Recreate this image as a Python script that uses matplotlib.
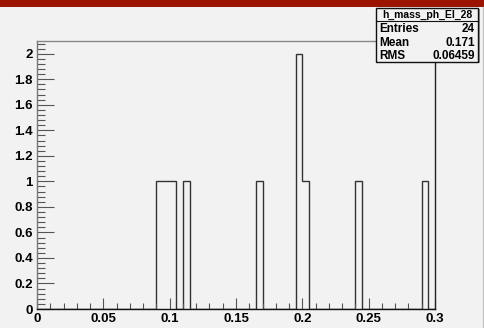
import numpy as np
import matplotlib
matplotlib.use("Agg")
import matplotlib.pyplot as plt
from matplotlib.patches import Rectangle
from matplotlib.lines import Line2D
from matplotlib.ticker import MultipleLocator, FormatStrFormatter

plt.rcParams['font.family'] = ['Liberation Sans', 'DejaVu Sans']

# histogram definition: 60 bins over [0, 0.3]
n_bins = 60
x_min, x_max = 0.0, 0.3

# filled bins (lower edge) and their contents
bin_low = [0.090, 0.095, 0.100, 0.110, 0.165, 0.195, 0.200, 0.240, 0.290]
bin_count = [1, 1, 1, 1, 1, 2, 1, 1, 1]

hist_name = "h_mass_ph_El_28"
stat_labels = ["Entries", "Mean", "RMS"]
stat_values = ["24", "0.171", "0.06459"]

edges = np.linspace(x_min, x_max, n_bins + 1)
counts = np.zeros(n_bins)
for lo, c in zip(bin_low, bin_count):
    counts[int(round((lo - x_min) / (x_max - x_min) * n_bins))] = c

bg = "#f2f2f2"
W, H = 484, 328
fig = plt.figure(figsize=(W / 100, H / 100), dpi=100, facecolor=bg)

# red header band and canvas border on the right
fig.patches.append(Rectangle((0, 1 - 7 / H), 1, 7 / H, transform=fig.transFigure,
                             facecolor="#9b1400", edgecolor="none"))
fig.lines.append(Line2D([1 - 1.5 / W] * 2, [0, 1 - 7 / H], transform=fig.transFigure,
                        color="#c4c4c4", lw=1.0))

ax = fig.add_axes([37 / W, (H - 309) / H, (435 - 37) / W, (309 - 41) / H])
ax.set_facecolor(bg)
ax.stairs(counts, edges, color="#333333", lw=1.0, baseline=0)

ax.set_xlim(x_min, x_max)
ax.set_ylim(0, 2.1)
ax.xaxis.set_major_locator(MultipleLocator(0.05))
ax.xaxis.set_minor_locator(MultipleLocator(0.01))
ax.yaxis.set_major_locator(MultipleLocator(0.2))
ax.yaxis.set_minor_locator(MultipleLocator(0.04))
ax.xaxis.set_major_formatter(FormatStrFormatter('%g'))
ax.yaxis.set_major_formatter(FormatStrFormatter('%g'))

ax.tick_params(axis='x', which='major', direction='in', length=8, width=0.8,
               color="#555555", labelsize=9.5, pad=3)
ax.tick_params(axis='x', which='minor', direction='in', length=4, width=0.8,
               color="#555555")
ax.tick_params(axis='y', which='major', direction='in', length=12, width=0.8,
               color="#555555", labelsize=9.5, pad=3)
ax.tick_params(axis='y', which='minor', direction='in', length=6, width=0.8,
               color="#555555")
for lab in ax.get_xticklabels() + ax.get_yticklabels():
    lab.set_fontweight('bold')

ax.spines['bottom'].set_color("#111111")
ax.spines['right'].set_color("#222222")
ax.spines['left'].set_color("#777777")
ax.spines['top'].set_color("#888888")
for s in ax.spines.values():
    s.set_linewidth(1.0)

# statistics box
bx0, bx1 = 376 / W, 478 / W
by0, by1 = (H - 62) / H, (H - 8) / H
fig.patches.append(Rectangle((bx0 + 1.5 / W, by0 - 1.5 / H), bx1 - bx0, by1 - by0,
                             transform=fig.transFigure, facecolor="#999999",
                             edgecolor="none", zorder=5))
fig.patches.append(Rectangle((bx0, by0), bx1 - bx0, by1 - by0, transform=fig.transFigure,
                             facecolor=bg, edgecolor="#111111", lw=1.0, zorder=6))
fig.lines.append(Line2D([bx0, bx1], [(H - 21) / H] * 2, transform=fig.transFigure,
                        color="#111111", lw=0.8, zorder=7))
fig.text((bx0 + bx1) / 2, (H - 14.5) / H, hist_name, ha='center', va='center',
         fontsize=7.5, fontweight='bold', zorder=8)
for i, (lab, val) in enumerate(zip(stat_labels, stat_values)):
    y = (H - (29 + 13.5 * i)) / H
    fig.text(379 / W, y, lab, ha='left', va='center', fontsize=8.5,
             fontweight='bold', zorder=8)
    fig.text(475 / W, y, val, ha='right', va='center', fontsize=8.5,
             fontweight='bold', zorder=8)

fig.savefig("out.png", dpi=100, facecolor=bg)
